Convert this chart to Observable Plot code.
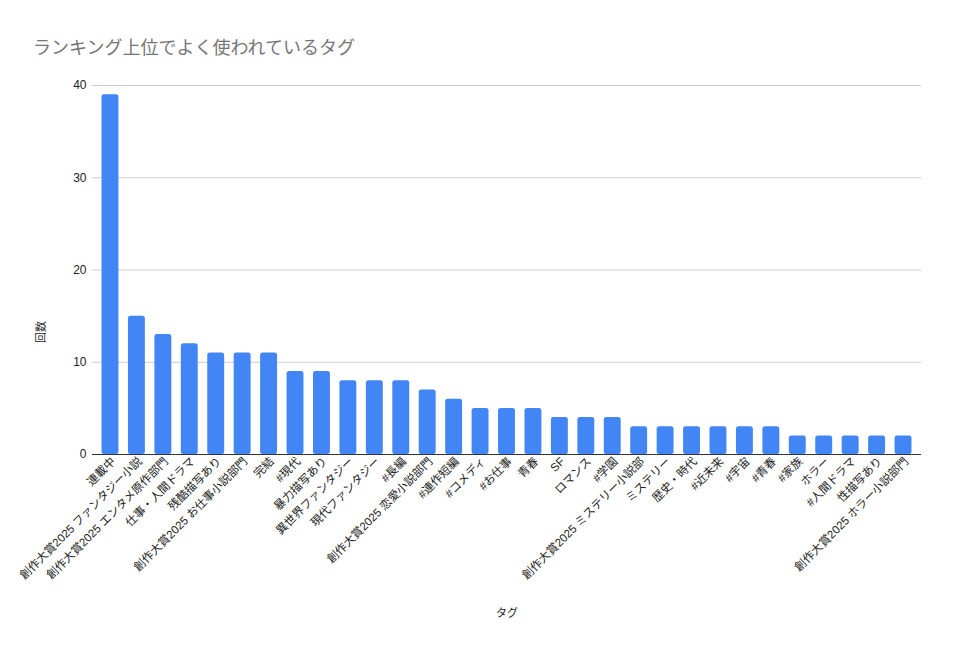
<!DOCTYPE html>
<html><head><meta charset="utf-8">
<script src="https://cdn.jsdelivr.net/npm/d3@7"></script>
<script src="https://cdn.jsdelivr.net/npm/@observablehq/plot@0.6"></script>
<style>
body{margin:0;background:#fff;font-family:"Liberation Sans","Noto Sans CJK JP",sans-serif;}
#wrap{position:relative;width:954px;height:653px;}
#title{position:absolute;left:33px;top:33px;font-size:18px;color:#757575;white-space:nowrap;}
#ylab{position:absolute;left:40px;top:332px;font-size:11px;color:#222;transform:translate(-50%,-50%) rotate(-90deg);white-space:nowrap;}
#xlab{position:absolute;left:507px;top:612px;font-size:11px;color:#222;transform:translate(-50%,-50%);white-space:nowrap;}
svg text{font-family:"Liberation Sans","Noto Sans CJK JP",sans-serif;}
</style></head>
<body><div id="wrap"><div id="title">ランキング上位でよく使われているタグ</div><div id="ylab">回数</div><div id="xlab">タグ</div></div>
<script>
const tags = ["連載中","創作大賞2025 ファンタジー小説","創作大賞2025 エンタメ原作部門","仕事・人間ドラマ","残酷描写あり","創作大賞2025 お仕事小説部門","完結","#現代","暴力描写あり","異世界ファンタジー","現代ファンタジー","#長編","創作大賞2025 恋愛小説部門","#連作短編","#コメディ","#お仕事","青春","SF","ロマンス","#学園","創作大賞2025 ミステリー小説部","ミステリー","歴史・時代","#近未来","#宇宙","#青春","#家族","ホラー","#人間ドラマ","性描写あり","創作大賞2025 ホラー小説部門"];
const counts = [39,15,13,12,11,11,11,9,9,8,8,8,7,6,5,5,5,4,4,4,3,3,3,3,3,3,2,2,2,2,2];
const yTicks = [0,10,20,30,40];
const data = tags.map((t,i)=>({tag:t,count:counts[i]}));

const chart = Plot.plot({
  width:954, height:653,
  marginTop:85, marginBottom:199, marginLeft:92, marginRight:33,
  style:{fontSize:"12px", color:"#222", background:"transparent"},
  x:{domain:tags, padding:0.36, round:false, label:null},
  y:{domain:[0,40], label:null},
  marks:[
    Plot.ruleY(yTicks.filter(d=>d>0), {stroke:"#cccccc"}),
    Plot.barY(data, {x:"tag", y:"count", fill:"#4285F4", rx:2.5}),
    Plot.ruleY([0], {stroke:"#333"}),
    Plot.axisY({ticks:yTicks, tickSize:0, tickPadding:6, fontSize:12, label:null}),
    Plot.axisX({tickSize:0, tickPadding:5, tickRotate:-45, fontSize:11.5, dx:3, label:null})
  ]
});
chart.style.position="absolute"; chart.style.left="0"; chart.style.top="0";
document.getElementById("wrap").prepend(chart);
</script></body></html>
